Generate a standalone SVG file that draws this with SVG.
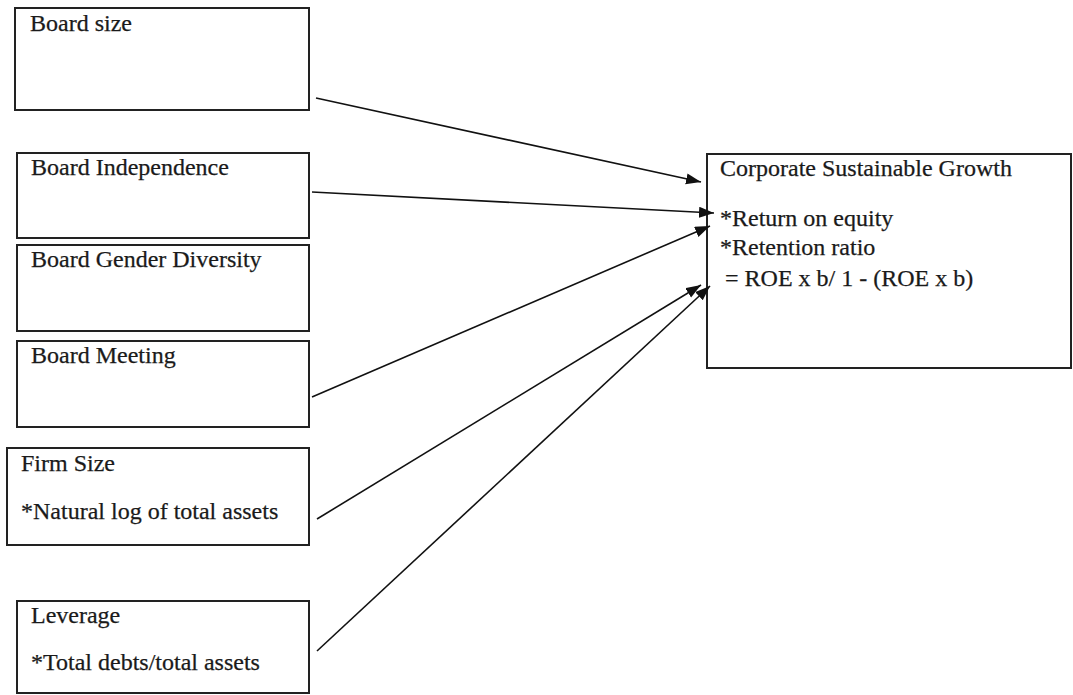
<svg xmlns="http://www.w3.org/2000/svg" width="1073" height="695" viewBox="0 0 1073 695">
<defs>
<style>
.box{fill:#fff;stroke:#222;stroke-width:2}
.t{font-family:"Liberation Serif","Times New Roman",serif;font-size:24px;fill:#1a1a1a;stroke:#1a1a1a;stroke-width:0.25}
.c{stroke:#111;stroke-width:1.6;fill:none;marker-end:url(#ah)}
</style>
<marker id="ah" markerUnits="userSpaceOnUse" markerWidth="16" markerHeight="12" refX="15" refY="5.5" orient="auto">
<path d="M0,0 L15,5.5 L0,11 z" fill="#111"/>
</marker>
</defs>
<rect width="1073" height="695" fill="#fff"/>
<g id="board-size"><rect class="box" x="15" y="8" width="294" height="102"/><text class="t" x="30" y="31">Board size</text></g>
<g id="board-independence"><rect class="box" x="17" y="153" width="292" height="85"/><text class="t" x="31" y="175">Board Independence</text></g>
<g id="board-gender"><rect class="box" x="17" y="245" width="292" height="86"/><text class="t" x="31" y="267">Board Gender Diversity</text></g>
<g id="board-meeting"><rect class="box" x="17" y="341" width="292" height="86"/><text class="t" x="31" y="363">Board Meeting</text></g>
<g id="firm-size"><rect class="box" x="7" y="448" width="302" height="97"/><text class="t" x="21" y="471">Firm Size</text><text class="t" x="21" y="519">*Natural log of total assets</text></g>
<g id="leverage"><rect class="box" x="17" y="601" width="292" height="92"/><text class="t" x="31" y="623">Leverage</text><text class="t" x="31" y="670">*Total debts/total assets</text></g>
<g id="csg"><rect class="box" x="707" y="154" width="364" height="214"/>
<text class="t" x="720" y="176">Corporate Sustainable Growth</text>
<text class="t" x="720" y="226">*Return on equity</text>
<text class="t" x="720" y="255">*Retention ratio</text>
<text class="t" x="725" y="286">= ROE x b/ 1 - (ROE x b)</text>
</g>
<g id="connectors">
<line class="c" x1="316" y1="98" x2="701" y2="182"/>
<line class="c" x1="312" y1="192" x2="714" y2="213"/>
<line class="c" x1="312" y1="397" x2="710" y2="226"/>
<line class="c" x1="317" y1="519" x2="701" y2="285"/>
<line class="c" x1="317" y1="651" x2="710" y2="286"/>
</g>
</svg>
